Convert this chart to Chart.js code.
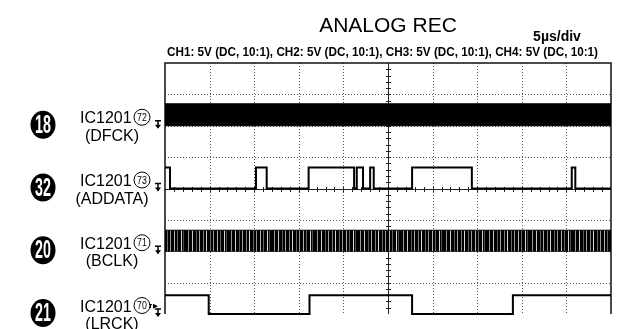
<!DOCTYPE html>
<html>
<head>
<meta charset="utf-8">
<script src="https://cdn.jsdelivr.net/npm/chart.js@4.4.1/dist/chart.umd.min.js"></script>
<style>
  html, body { margin: 0; padding: 0; background: #fff; overflow: hidden; }
  canvas { display: block; }
</style>
</head>
<body>
<canvas id="scope" width="621" height="329"></canvas>
<script>
// scope settings
const TIME_PER_DIV = 5;   // µs
const VOLTS_PER_DIV = 5;  // V
const DIVS_X = 10;
const DIVS_Y = 8;

const TITLE = 'ANALOG REC';
const TIMEBASE_LABEL = '5\u00b5s/div';
const SETTINGS_LABEL = 'CH1: 5V (DC, 10:1), CH2: 5V (DC, 10:1), CH3: 5V (DC, 10:1), CH4: 5V (DC, 10:1)';

const channelNames = ['(DFCK)', '(ADDATA)', '(BCLK)', '(LRCK)'];
const channelRefs = ['18', '32', '20', '21'];
const channelPins = ['72', '73', '71', '70'];
const channelIc = 'IC1201';
const channelGround = [6, 4, 2, 0];          // divisions from bottom
const channelHigh = [3.5, 3.35, 3.35, 3.0];  // volts

// edge times in µs, level right after each edge (1 = high)
const addataEdges = [0, 0.56, 10.2, 11.4, 16.1, 21.2, 21.5, 22.2, 23.0, 23.4, 27.7, 34.4, 45.6, 46.0, 50];
const addataLevels = [1, 0, 1, 0, 1, 0, 1, 0, 1, 0, 1, 0, 1, 0, 0];
const lrckEdges = [0, 4.9, 16.2, 27.7, 39.0, 50];
const lrckLevels = [1, 0, 1, 0, 1, 1];
// DFCK and BCLK toggle too fast to resolve at 5µs/div, they show as a band
const dfckSpan = [0, 50];
const bclkSpan = [0, 50];

function toDiv(ch, volts) {
  return channelGround[ch] + volts / VOLTS_PER_DIV;
}

function stepPoints(ch, edges, levels) {
  return edges.map((t, i) => ({ x: t, y: toDiv(ch, levels[i] ? channelHigh[ch] : 0) }));
}

function bandPoints(ch, span, volts) {
  return span.map((t) => ({ x: t, y: toDiv(ch, volts) }));
}

// streaky fill for the unresolved bit clock
function makeClockPattern() {
  const c = document.createElement('canvas');
  c.width = 43;
  c.height = 4;
  const g = c.getContext('2d');
  g.fillStyle = '#000';
  g.fillRect(0, 0, c.width, c.height);
  [[2, 0.7], [5, 0.4], [9, 0.85], [11, 0.3], [16, 0.6], [20, 0.8], [24, 0.35],
   [27, 0.65], [31, 0.5], [34, 0.85], [38, 0.4], [41, 0.6]].forEach(([x, a]) => {
    g.fillStyle = `rgba(255,255,255,${a})`;
    g.fillRect(x, 0, 1, c.height);
  });
  return g.createPattern(c, 'repeat');
}

const graticule = {
  id: 'graticule',
  beforeDatasetsDraw(chart) {
    const { ctx, chartArea: a, scales: { x, y } } = chart;
    const tMax = TIME_PER_DIV * DIVS_X;
    ctx.save();
    ctx.strokeStyle = '#555';
    ctx.lineWidth = 1;
    ctx.setLineDash([1, 2]);
    for (let i = 1; i < DIVS_X; i++) {
      if (i === DIVS_X / 2) continue;
      const px = Math.round(x.getPixelForValue(i * TIME_PER_DIV)) + 0.5;
      ctx.beginPath(); ctx.moveTo(px, a.top); ctx.lineTo(px, a.bottom); ctx.stroke();
    }
    for (let j = 1; j < DIVS_Y; j++) {
      if (j === DIVS_Y / 2) continue;
      const py = Math.round(y.getPixelForValue(j)) + 0.5;
      ctx.beginPath(); ctx.moveTo(a.left, py); ctx.lineTo(a.right, py); ctx.stroke();
    }
    ctx.setLineDash([]);
    ctx.strokeStyle = '#222';
    const cx = Math.round(x.getPixelForValue(tMax / 2)) + 0.5;
    const cy = Math.round(y.getPixelForValue(DIVS_Y / 2)) + 0.5;
    ctx.beginPath();
    ctx.moveTo(cx, a.top); ctx.lineTo(cx, a.bottom);
    ctx.moveTo(a.left, cy); ctx.lineTo(a.right, cy);
    ctx.stroke();
    // minor ticks, 5 per division
    ctx.beginPath();
    for (let k = 1; k < DIVS_Y * 5; k++) {
      const py = Math.round(y.getPixelForValue(k / 5)) + 0.5;
      ctx.moveTo(cx - 2.5, py); ctx.lineTo(cx + 2.5, py);
    }
    for (let k = 1; k < DIVS_X * 5; k++) {
      const px = Math.round(x.getPixelForValue(k * TIME_PER_DIV / 5)) + 0.5;
      ctx.moveTo(px, cy - 2.5); ctx.lineTo(px, cy + 2.5);
    }
    ctx.stroke();
    // frame
    ctx.strokeStyle = '#111';
    ctx.lineWidth = 1.5;
    ctx.beginPath();
    ctx.moveTo(a.left, a.bottom); ctx.lineTo(a.left, a.top);
    ctx.lineTo(a.right, a.top); ctx.lineTo(a.right, a.bottom);
    ctx.stroke();
    ctx.restore();
  },
};

const labels = {
  id: 'labels',
  afterDraw(chart) {
    const { ctx, chartArea: a, scales: { y } } = chart;
    ctx.save();
    ctx.fillStyle = '#000';
    ctx.textBaseline = 'alphabetic';

    ctx.textAlign = 'center';
    ctx.font = '21px "Liberation Sans", Arial, sans-serif';
    ctx.fillText(TITLE, (a.left + a.right) / 2, 32);
    ctx.font = 'bold 14px "Liberation Sans", Arial, sans-serif';
    ctx.fillText(TIMEBASE_LABEL, 557, 41);
    ctx.textAlign = 'left';
    ctx.font = 'bold 12.5px "Liberation Sans", Arial, sans-serif';
    ctx.fillText(SETTINGS_LABEL, 167, 56, 431);

    channelNames.forEach((name, i) => {
      const gy = y.getPixelForValue(channelGround[i]);

      // black reference bubble
      ctx.save();
      ctx.translate(43, gy - 1);
      ctx.fillStyle = '#000';
      ctx.beginPath();
      ctx.ellipse(0, 0, 12.5, 14, 0, 0, Math.PI * 2);
      ctx.fill();
      ctx.fillStyle = '#fff';
      ctx.font = 'bold 26px "Liberation Sans", Arial, sans-serif';
      ctx.textAlign = 'center';
      ctx.textBaseline = 'middle';
      ctx.scale(0.55, 1);
      ctx.fillText(channelRefs[i], 0, 1);
      ctx.restore();

      // IC pin label
      ctx.font = '16px "Liberation Sans", Arial, sans-serif';
      ctx.textAlign = 'left';
      ctx.fillText(channelIc, 80, gy - 2.5);
      ctx.save();
      ctx.translate(142, gy - 8.5);
      ctx.lineWidth = 1;
      ctx.strokeStyle = '#000';
      ctx.beginPath();
      ctx.arc(0, 0, 8, 0, Math.PI * 2);
      ctx.stroke();
      ctx.font = '11px "Liberation Sans", Arial, sans-serif';
      ctx.textAlign = 'center';
      ctx.textBaseline = 'middle';
      ctx.scale(0.8, 1);
      ctx.fillText(channelPins[i], 0, 0.5);
      ctx.restore();
      ctx.textAlign = 'center';
      ctx.fillText(name, 112, gy + 15);

      // ground marker
      ctx.save();
      ctx.translate(158, gy - 1);
      ctx.strokeStyle = '#000';
      ctx.lineWidth = 1.5;
      ctx.beginPath();
      ctx.moveTo(-3, -4); ctx.lineTo(3, -4);
      ctx.moveTo(0, -4); ctx.lineTo(0, 3);
      ctx.stroke();
      ctx.beginPath();
      ctx.moveTo(-3, 0); ctx.lineTo(3, 0); ctx.lineTo(0, 4);
      ctx.closePath();
      ctx.fill();
      ctx.restore();
    });

    // trigger marker on CH4
    const ty = y.getPixelForValue(channelGround[3] + 0.25);
    ctx.beginPath();
    ctx.moveTo(153, ty - 2.5); ctx.lineTo(158, ty); ctx.lineTo(153, ty + 2.5);
    ctx.closePath();
    ctx.fill();
    ctx.fillRect(149, ty - 2, 3, 1);
    ctx.fillRect(150, ty - 2, 1, 4);
    ctx.restore();
  },
};

const clockPattern = makeClockPattern();

const trace = { pointRadius: 0, borderColor: '#000', tension: 0, clip: 4 };

new Chart(document.getElementById('scope'), {
  type: 'line',
  data: {
    datasets: [
      { ...trace, data: bandPoints(0, dfckSpan, channelHigh[0]), borderWidth: 1, fill: '+1', backgroundColor: '#000' },
      { ...trace, data: bandPoints(0, dfckSpan, 0), borderWidth: 1, fill: false },
      { ...trace, data: stepPoints(1, addataEdges, addataLevels), borderWidth: 2, stepped: true, fill: false },
      { ...trace, data: bandPoints(2, bclkSpan, channelHigh[2]), borderWidth: 1, fill: '+1', backgroundColor: clockPattern },
      { ...trace, data: bandPoints(2, bclkSpan, 0), borderWidth: 1, fill: false },
      { ...trace, data: stepPoints(3, lrckEdges, lrckLevels), borderWidth: 2, stepped: true, fill: false },
    ],
  },
  options: {
    responsive: false,
    animation: false,
    events: [],
    layout: { padding: { left: 165, right: 10, top: 63, bottom: 15 } },
    plugins: {
      legend: { display: false },
      tooltip: { enabled: false },
    },
    scales: {
      x: { type: 'linear', min: 0, max: TIME_PER_DIV * DIVS_X, display: false },
      y: { type: 'linear', min: 0, max: DIVS_Y, display: false },
    },
  },
  plugins: [graticule, labels],
});
</script>
</body>
</html>
